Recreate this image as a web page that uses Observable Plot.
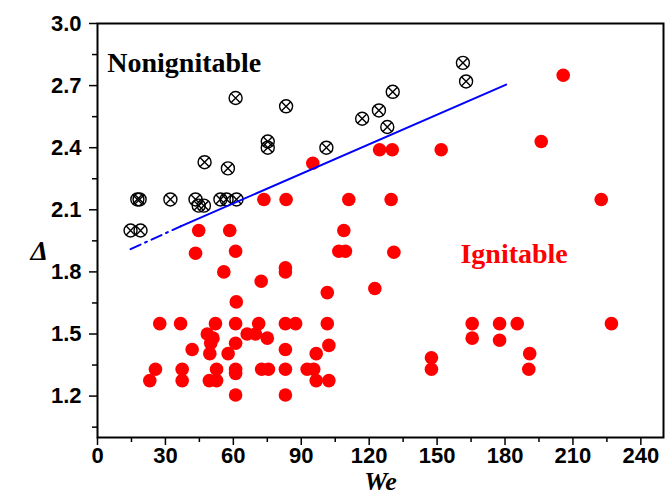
<!DOCTYPE html>
<html><head><meta charset="utf-8">
<script src="https://cdn.jsdelivr.net/npm/d3@7"></script>
<script src="https://cdn.jsdelivr.net/npm/@observablehq/plot@0.6"></script>
<style>body{margin:0;background:#fff}</style>
</head><body><div id="chart"></div>
<script>
// Nonignitable (crossed circles)
const nonWe    = [14.6, 19.0, 17.6, 18.6, 32.2, 43.3, 44.7, 47.0, 54.3, 57.0, 61.4, 47.3, 57.6, 61.0, 75.2, 75.2, 83.3, 101.1, 116.9, 124.3, 128.0, 130.4, 161.4, 162.8];
const nonDelta = [2.00, 2.00, 2.15, 2.15, 2.15, 2.15, 2.12, 2.12, 2.15, 2.15, 2.15, 2.33, 2.30, 2.64, 2.43, 2.40, 2.60, 2.40, 2.54, 2.58, 2.50, 2.67, 2.81, 2.72];
// Ignitable (red dots)
const ignWe    = [205.7, 196.0, 124.6, 130.2, 151.8, 95.1,
  73.5, 83.3, 111.0, 129.7, 222.5,
  44.7, 58.4, 108.8,
  43.3, 61.0, 106.6, 109.5, 130.9,
  83.0, 83.0, 55.8, 72.3, 122.5, 101.5, 61.3,
  27.5, 36.7, 52.1, 61.0, 71.2, 83.0, 87.5, 101.5, 165.5, 177.6, 185.4, 227.0,
  48.5, 66.1, 69.8,
  51.0, 75.0, 165.5, 177.6,
  50.0, 61.0, 102.2, 41.8, 83.0,
  49.6, 57.7, 96.6, 190.9, 147.5,
  25.6, 37.4, 52.6, 61.0, 72.5, 75.5, 83.0, 92.6, 95.5, 147.5, 190.5,
  61.0,
  23.1, 37.4, 49.4, 52.6, 96.6, 102.2,
  61.0, 83.0];
const ignDelta = [2.75, 2.43, 2.39, 2.39, 2.39, 2.325,
  2.15, 2.15, 2.15, 2.15, 2.15,
  2.00, 2.00, 2.00,
  1.89, 1.90, 1.90, 1.90, 1.895,
  1.82, 1.80, 1.80, 1.755, 1.72, 1.70, 1.655,
  1.55, 1.55, 1.55, 1.55, 1.55, 1.55, 1.55, 1.55, 1.55, 1.55, 1.55, 1.55,
  1.50, 1.50, 1.50,
  1.48, 1.48, 1.48, 1.47,
  1.455, 1.455, 1.445, 1.425, 1.425,
  1.405, 1.405, 1.405, 1.405, 1.385,
  1.33, 1.33, 1.33, 1.33, 1.33, 1.33, 1.33, 1.33, 1.33, 1.33, 1.33,
  1.31,
  1.275, 1.275, 1.275, 1.275, 1.275, 1.275,
  1.205, 1.205];
// Boundary line
const dashWe = [14.6, 36.7], dashDelta = [1.91, 2.02];
const solidWe = [36.7, 180.5], solidDelta = [2.02, 2.705];
// Ticks
const xTicks = [0, 30, 60, 90, 120, 150, 180, 210, 240];
const xMinor = [15, 45, 75, 105, 135, 165, 195, 225];
const yTicks = [1.2, 1.5, 1.8, 2.1, 2.4, 2.7, 3.0];
const yMinor = [1.05, 1.35, 1.65, 1.95, 2.25, 2.55, 2.85];

const non = nonWe.map((x, i) => ({x, y: nonDelta[i]}));
const ign = ignWe.map((x, i) => ({x, y: ignDelta[i]}));
const dash = dashWe.map((x, i) => ({x, y: dashDelta[i]}));
const solid = solidWe.map((x, i) => ({x, y: solidDelta[i]}));

const serif = "'Liberation Serif', 'Times New Roman', serif";
const plot = Plot.plot({
  width: 665, height: 497,
  marginLeft: 97, marginRight: 2, marginTop: 23, marginBottom: 60,
  x: {domain: [0, 250]},
  y: {domain: [1.0, 3.0]},
  style: {fontFamily: "'Liberation Sans', Arial, sans-serif", background: "white", color: "black"},
  marks: [
    Plot.axisX(xTicks, {tickSize: 8, tickPadding: 2, fontSize: 22, fontWeight: "bold", strokeWidth: 1.5, label: null, tickFormat: d => String(d)}),
    Plot.axisX(xMinor, {tickSize: 5, text: null, strokeWidth: 1.5, label: null}),
    Plot.axisY(yTicks, {tickSize: 8, tickPadding: 8, fontSize: 22, fontWeight: "bold", strokeWidth: 1.5, label: null, tickFormat: d3.format(".1f")}),
    Plot.axisY(yMinor, {tickSize: 5, text: null, strokeWidth: 1.5, label: null}),
    Plot.frame({stroke: "black", strokeWidth: 2}),
    Plot.dot(non, {x: "x", y: "y", r: 6.5, stroke: "black", strokeWidth: 1.4, fill: "none"}),
    Plot.dot(non, {x: "x", y: "y", r: 4.3, symbol: "times", stroke: "black", strokeWidth: 1.4}),
    Plot.dot(ign, {x: "x", y: "y", r: 6.8, fill: "#ff0000"}),
    Plot.line(dash, {x: "x", y: "y", stroke: "#0000ff", strokeWidth: 2, strokeDasharray: "11,5,2,5"}),
    Plot.line(solid, {x: "x", y: "y", stroke: "#0000ff", strokeWidth: 2}),
    Plot.text(["Nonignitable"], {x: 4.3, y: 2.765, text: d => d, textAnchor: "start", lineAnchor: "bottom", fontFamily: serif, fontSize: 28, fontWeight: "bold", fill: "black"}),
    Plot.text(["Ignitable"], {x: 160.3, y: 1.841, text: d => d, textAnchor: "start", lineAnchor: "bottom", fontFamily: serif, fontSize: 28, fontWeight: "bold", fill: "#ff0000"}),
    Plot.text(["We"], {frameAnchor: "bottom", dy: 52, text: d => d, lineAnchor: "bottom", fontFamily: serif, fontSize: 26, fontWeight: "bold", fontStyle: "italic", fill: "black"}),
    Plot.text(["Δ"], {frameAnchor: "left", dx: -67, dy: 21, text: d => d, fontFamily: serif, fontSize: 28, fontStyle: "italic", fontWeight: "bold", fill: "black"})
  ]
});
document.getElementById("chart").appendChild(plot);
</script>
</body></html>
